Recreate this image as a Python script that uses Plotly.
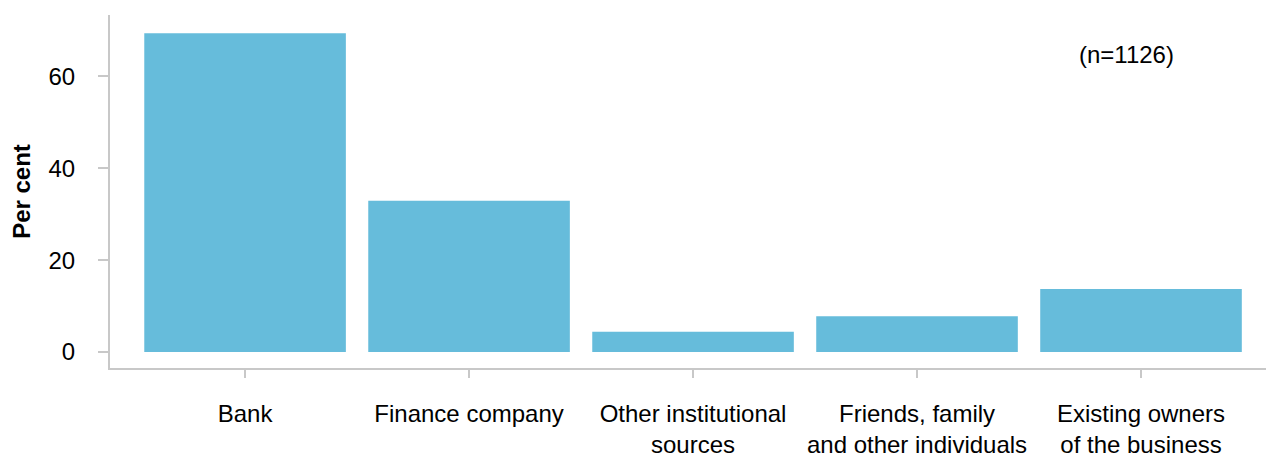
import plotly.graph_objects as go

categories = ["Bank", "Finance company", "Other institutional<br>sources",
              "Friends, family<br>and other individuals", "Existing owners<br>of the business"]
values = [69.4, 32.9, 4.4, 7.8, 13.7]
y_ticks = [0, 20, 40, 60]
y_title = "Per cent"
note = "(n=1126)"

BAR = "#66BCDB"
AXIS = "#C8C8C8"
FONT = "Liberation Sans, Arial, sans-serif"

fig = go.Figure(go.Bar(x=categories, y=values, marker=dict(color=BAR, line=dict(width=0)),
                       width=0.9, hoverinfo="skip"))

fig.update_layout(
    width=1266, height=453,
    margin=dict(l=110, r=0, t=15, b=85),
    paper_bgcolor="white", plot_bgcolor="white",
    font=dict(family=FONT, size=24, color="#000000"),
    showlegend=False,
    xaxis=dict(
        range=[-0.603, 4.558], showline=True, linecolor=AXIS, linewidth=2,
        ticks="outside", ticklen=8, tickcolor=AXIS, tickwidth=2,
        showgrid=False, zeroline=False, ticklabelstandoff=15, automargin=False,
        tickfont=dict(size=24, color="#000000"),
    ),
    yaxis=dict(
        range=[-3.48, 73.35], showline=True, linecolor=AXIS, linewidth=2,
        ticks="outside", ticklen=10, tickcolor=AXIS, tickwidth=2,
        tickvals=y_ticks, showgrid=False, zeroline=False, ticklabelstandoff=18,
        automargin=False,
        tickfont=dict(size=24, color="#000000"),
        title=dict(text="<b>" + y_title + "</b>", standoff=11,
                   font=dict(size=24, color="#000000")),
    ),
    annotations=[dict(text=note, xref="paper", yref="paper", x=0.879, y=0.887,
                      xanchor="center", yanchor="middle",
                      showarrow=False, font=dict(size=24, color="#000000"))],
)

fig.write_html("out.html", config={"displayModeBar": False},
               post_script="document.body.style.margin='0';document.body.style.overflow='hidden';")
